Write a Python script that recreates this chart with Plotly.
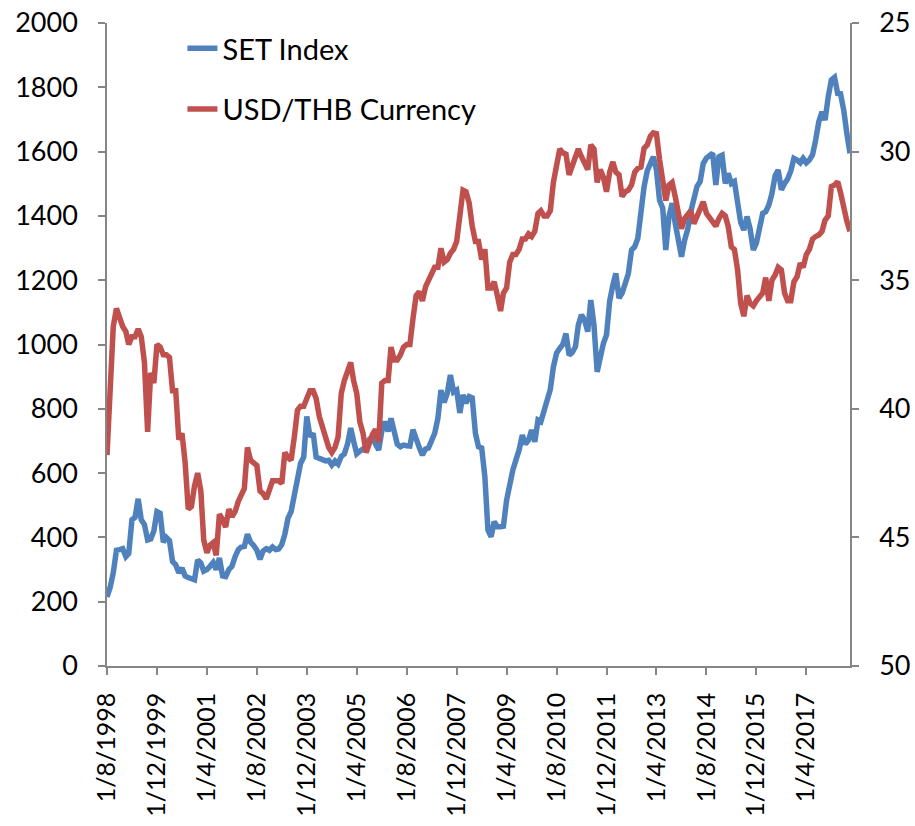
import pandas as pd
import plotly.graph_objects as go

start_month = "1998-08-01"
n_months = 239

set_index = [
    215, 245, 290, 360, 362, 365, 340, 350, 455, 462, 520, 455,
    440, 392, 395, 420, 480, 475, 385, 400, 390, 325, 315, 290,
    305, 280, 275, 270, 268, 330, 320, 295, 300, 310, 322, 300,
    336, 280, 278, 300, 310, 340, 362, 370, 372, 410, 385, 375,
    360, 332, 358, 365, 360, 370, 362, 364, 378, 410, 460, 480,
    530, 600, 630, 650, 776, 713, 724, 650, 645, 642, 638, 640,
    625, 638, 628, 652, 660, 690, 740, 700, 660, 668, 675, 682,
    705, 713, 690, 672, 730, 760, 730, 770, 730, 690, 682, 687,
    685, 684, 735, 700, 680, 656, 675, 678, 700, 724, 770, 858,
    820, 849, 905, 852, 858, 787, 843, 818, 838, 834, 724, 682,
    678, 589, 423, 402, 449, 433, 433, 435, 516, 575, 610, 641,
    672, 718, 690, 703, 734, 697, 765, 760, 795, 830, 860, 930,
    973, 988, 1000, 1034, 967, 975, 993, 1060, 1092, 1076, 1040, 1138,
    1060, 915, 970, 1004, 1030, 1135, 1185, 1221, 1144, 1160, 1190, 1221,
    1294, 1304, 1330, 1429, 1490, 1540, 1560, 1584, 1543, 1449, 1424, 1294,
    1398, 1440, 1377, 1315, 1273, 1325, 1360, 1413, 1460, 1491, 1507, 1563,
    1580, 1589, 1595, 1496, 1584, 1589, 1501, 1532, 1501, 1507, 1449, 1380,
    1356, 1398, 1360, 1294, 1315, 1356, 1408, 1413, 1434, 1470, 1525, 1543,
    1481, 1501, 1515, 1540, 1579, 1574, 1565, 1579, 1565, 1574, 1590, 1636,
    1693, 1724, 1698, 1771, 1823, 1831, 1781, 1780, 1729, 1657, 1595,
]

usd_thb = [
    41.8, 39.3, 36.8, 36.1, 36.5, 36.8, 37.0, 37.5, 37.2, 37.2, 36.9, 37.2,
    38.2, 40.9, 38.6, 39.0, 37.5, 37.6, 37.9, 37.9, 38.0, 39.3, 39.3, 41.2,
    40.95, 42.1, 43.9, 43.8, 43.0, 42.5, 43.2, 45.1, 45.6, 45.3, 45.2, 45.7,
    44.1, 44.3, 44.6, 43.9, 44.2, 44.0, 43.6, 43.4, 43.1, 41.5, 42.0, 42.1,
    42.2, 43.2, 43.3, 43.5, 43.1, 42.8, 42.8, 42.8, 42.9, 41.7, 41.9, 42.0,
    41.1, 40.05, 39.9, 39.9, 39.6, 39.3, 39.3, 39.6, 40.3, 40.7, 41.2, 41.5,
    41.7, 41.5, 41.1, 39.4, 38.9, 38.6, 38.2, 38.9, 39.4, 40.5, 40.95, 41.7,
    41.3, 41.0, 40.8, 41.3, 39.0, 38.9, 38.9, 37.6, 38.1, 38.1, 37.9, 37.6,
    37.5, 37.5, 36.5, 35.6, 35.45, 35.8, 35.25, 35.0, 34.7, 34.5, 34.5, 33.76,
    34.3, 34.2, 33.95, 33.8, 33.5, 32.6, 31.5, 31.56, 32.0, 32.9, 33.5, 33.5,
    34.2, 33.8, 35.3, 35.3, 35.06, 35.6, 36.2, 35.5, 35.3, 34.3, 34.0, 34.0,
    33.8, 33.4, 33.4, 33.2, 33.3, 33.1, 32.4, 32.3, 32.5, 32.5, 32.3, 31.2,
    30.6, 29.9, 30.05, 30.1, 30.9, 30.6, 30.3, 29.9, 30.2, 30.5, 30.7, 29.74,
    29.9, 31.2, 30.7, 31.0, 31.56, 30.8, 30.4, 30.8, 30.9, 31.75, 31.56, 31.5,
    31.3, 30.8, 30.65, 30.6, 29.87, 29.74, 29.4, 29.27, 29.3, 30.3, 31.2, 31.9,
    31.3, 31.2, 31.75, 32.5, 33.0, 32.6, 32.4, 32.3, 32.8, 32.5, 32.2, 31.95,
    32.4, 32.6, 32.7, 32.9, 32.6, 32.4, 32.5, 32.9, 33.7, 33.8, 34.6, 35.9,
    36.4, 35.6, 35.9, 36.0, 35.8, 35.6, 35.5, 34.9, 35.8, 35.0, 34.8, 34.5,
    34.6, 35.5, 35.8, 35.8, 35.06, 34.86, 34.34, 34.5, 34.0, 33.8, 33.4, 33.3,
    33.24, 33.1, 32.66, 32.5, 31.36, 31.3, 31.17, 31.6, 32.2, 32.7, 33.1,
]

dates = pd.date_range(start_month, periods=n_months, freq="MS")
tick_dates = dates[::16]
tick_labels = [f"1/{d.month}/{d.year}" for d in tick_dates]

FONT = "Lato, Calibri, Carlito, sans-serif"
AXIS_COLOR = "#868686"
TICK_FONT = dict(family=FONT, size=27, color="#000000")
XTICK_FONT = dict(family=FONT, size=25, color="#000000")

fig = go.Figure()
fig.add_trace(go.Scatter(
    x=dates, y=set_index, name="SET Index", mode="lines",
    line=dict(color="#4F81BD", width=5.5), legendgroup="a",
))
fig.add_trace(go.Scatter(
    x=dates, y=usd_thb, name="USD/THB Currency", mode="lines",
    line=dict(color="#C0504D", width=5.5), yaxis="y2", legendgroup="b",
))

axis_common = dict(
    showgrid=False, zeroline=False, automargin=False,
    showline=True, linecolor=AXIS_COLOR, linewidth=1.5,
    ticks="outside", ticklen=7, tickwidth=1.5, tickcolor=AXIS_COLOR,
    ticklabeloverflow="allow",
)

fig.update_layout(
    width=915, height=826,
    margin=dict(l=107, r=65, t=23, b=160, autoexpand=False),
    paper_bgcolor="white", plot_bgcolor="white",
    font=dict(family=FONT, size=27, color="#000000"),
    showlegend=True,
    legend=dict(
        x=0.1015, y=1.0, xanchor="left", yanchor="top",
        font=dict(family=FONT, size=29, color="#000000"),
        bgcolor="rgba(0,0,0,0)", traceorder="grouped", tracegroupgap=20,
    ),
    xaxis=dict(
        type="date", range=[dates[0], dates[-1]],
        tickmode="array", tickvals=tick_dates, ticktext=tick_labels,
        tickangle=-90, ticklabelstandoff=8, tickfont=XTICK_FONT,
        **axis_common,
    ),
    yaxis=dict(
        range=[0, 2000], dtick=200, tick0=0, ticklabelstandoff=15,
        tickfont=TICK_FONT, **axis_common,
    ),
    yaxis2=dict(
        overlaying="y", side="right",
        range=[50, 25], dtick=5, tick0=25, ticklabelstandoff=15,
        tickfont=TICK_FONT, **axis_common,
    ),
)

fig.write_html(
    "out.html",
    config={"displayModeBar": False},
    post_script="document.body.style.margin='0';document.body.style.overflow='hidden';",
)
